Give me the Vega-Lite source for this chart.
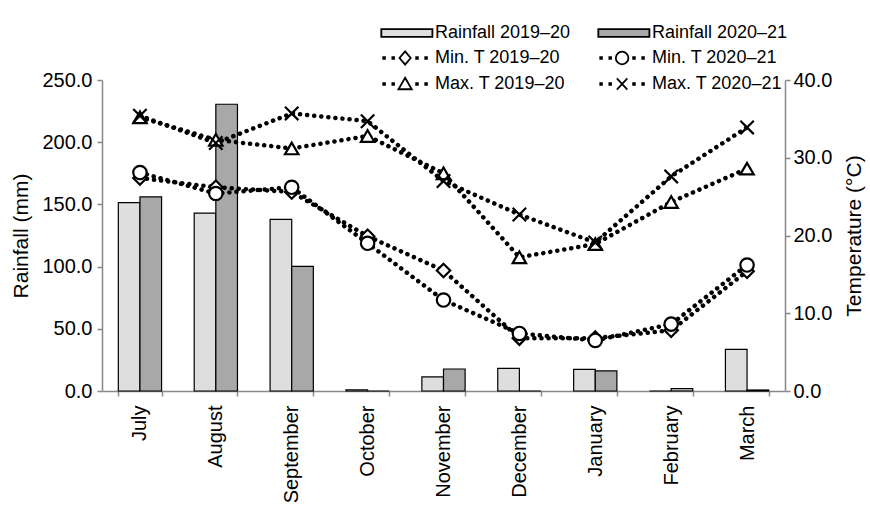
{
  "$schema": "https://vega.github.io/schema/vega-lite/v6.json",
  "width": 683,
  "height": 311,
  "autosize": "none",
  "padding": {"left": 102, "top": 80, "right": 85, "bottom": 114},
  "background": "white",
  "config": {
    "font": "Liberation Sans",
    "view": {"stroke": null},
    "axis": {
      "domainColor": "#888888",
      "tickColor": "#888888",
      "domainWidth": 1.5,
      "tickWidth": 1.5,
      "tickSize": 5,
      "labelColor": "black",
      "titleColor": "black",
      "labelFont": "Liberation Sans",
      "titleFont": "Liberation Sans",
      "labelFontSize": 20,
      "titleFontSize": 21,
      "titleFontWeight": "normal",
      "grid": false
    },
    "legend": {
      "orient": "none",
      "legendX": 278,
      "legendY": -56,
      "columns": 2,
      "padding": 0,
      "labelFontSize": 18,
      "labelFont": "Liberation Sans",
      "labelColor": "black",
      "labelLimit": 300,
      "symbolSize": 196,
      "symbolStrokeWidth": 1.8,
      "symbolStrokeColor": "black",
      "symbolOpacity": 1,
      "labelOffset": 37,
      "rowPadding": 5,
      "columnPadding": 23
    }
  },
  "datasets": {
    "rain": [
      {"month": "July", "year": "2019–20", "rain": 151.4},
      {"month": "July", "year": "2020–21", "rain": 156},
      {"month": "August", "year": "2019–20", "rain": 143},
      {"month": "August", "year": "2020–21", "rain": 230.5},
      {"month": "September", "year": "2019–20", "rain": 138},
      {"month": "September", "year": "2020–21", "rain": 100.2},
      {"month": "October", "year": "2019–20", "rain": 1.0},
      {"month": "October", "year": "2020–21", "rain": 0},
      {"month": "November", "year": "2019–20", "rain": 11.3},
      {"month": "November", "year": "2020–21", "rain": 17.7},
      {"month": "December", "year": "2019–20", "rain": 18.2},
      {"month": "December", "year": "2020–21", "rain": 0},
      {"month": "January", "year": "2019–20", "rain": 17.4},
      {"month": "January", "year": "2020–21", "rain": 16.1},
      {"month": "February", "year": "2019–20", "rain": 0},
      {"month": "February", "year": "2020–21", "rain": 2.0},
      {"month": "March", "year": "2019–20", "rain": 33.5},
      {"month": "March", "year": "2020–21", "rain": 0.8}
    ],
    "temp": [
      {"month": "July", "series": "Min. T 2019–20", "temp": 27.4},
      {"month": "August", "series": "Min. T 2019–20", "temp": 26.2},
      {"month": "September", "series": "Min. T 2019–20", "temp": 25.6},
      {"month": "October", "series": "Min. T 2019–20", "temp": 19.9},
      {"month": "November", "series": "Min. T 2019–20", "temp": 15.5},
      {"month": "December", "series": "Min. T 2019–20", "temp": 6.8},
      {"month": "January", "series": "Min. T 2019–20", "temp": 6.8},
      {"month": "February", "series": "Min. T 2019–20", "temp": 7.8},
      {"month": "March", "series": "Min. T 2019–20", "temp": 15.4},
      {"month": "July", "series": "Min. T 2020–21", "temp": 28.1},
      {"month": "August", "series": "Min. T 2020–21", "temp": 25.4},
      {"month": "September", "series": "Min. T 2020–21", "temp": 26.2},
      {"month": "October", "series": "Min. T 2020–21", "temp": 19.0},
      {"month": "November", "series": "Min. T 2020–21", "temp": 11.7},
      {"month": "December", "series": "Min. T 2020–21", "temp": 7.4},
      {"month": "January", "series": "Min. T 2020–21", "temp": 6.5},
      {"month": "February", "series": "Min. T 2020–21", "temp": 8.6},
      {"month": "March", "series": "Min. T 2020–21", "temp": 16.2},
      {"month": "July", "series": "Max. T 2019–20", "temp": 35.2},
      {"month": "August", "series": "Max. T 2019–20", "temp": 32.3},
      {"month": "September", "series": "Max. T 2019–20", "temp": 31.2},
      {"month": "October", "series": "Max. T 2019–20", "temp": 32.8},
      {"month": "November", "series": "Max. T 2019–20", "temp": 28.0},
      {"month": "December", "series": "Max. T 2019–20", "temp": 17.2},
      {"month": "January", "series": "Max. T 2019–20", "temp": 18.9},
      {"month": "February", "series": "Max. T 2019–20", "temp": 24.3},
      {"month": "March", "series": "Max. T 2019–20", "temp": 28.6},
      {"month": "July", "series": "Max. T 2020–21", "temp": 35.4},
      {"month": "August", "series": "Max. T 2020–21", "temp": 31.9},
      {"month": "September", "series": "Max. T 2020–21", "temp": 35.7},
      {"month": "October", "series": "Max. T 2020–21", "temp": 34.7},
      {"month": "November", "series": "Max. T 2020–21", "temp": 27.0},
      {"month": "December", "series": "Max. T 2020–21", "temp": 22.7},
      {"month": "January", "series": "Max. T 2020–21", "temp": 19.1},
      {"month": "February", "series": "Max. T 2020–21", "temp": 27.6},
      {"month": "March", "series": "Max. T 2020–21", "temp": 33.9}
    ]
  },
  "layer": [
    {
      "data": {"name": "rain"},
      "mark": {"type": "bar", "stroke": "black", "strokeWidth": 1.2},
      "encoding": {
        "x": {
          "field": "month",
          "type": "nominal",
          "scale": {
            "domain": ["July", "August", "September", "October", "November", "December", "January", "February", "March"],
            "paddingInner": 0.43,
            "paddingOuter": 0.215
          },
          "axis": {"title": null, "labelAngle": -90, "tickBand": "extent", "labelPadding": 9, "domainWidth": 1.5}
        },
        "xOffset": {"field": "year", "type": "nominal", "scale": {"paddingInner": 0, "paddingOuter": 0}},
        "y": {
          "field": "rain",
          "type": "quantitative",
          "scale": {"domain": [0, 250]},
          "axis": {"orient": "left", "values": [0, 50, 100, 150, 200, 250], "format": ".1f", "title": "Rainfall (mm)", "labelPadding": 5, "titlePadding": 10}
        },
        "fill": {
          "condition": {"test": "datum.year == '2019–20'", "value": "#dedede"},
          "value": "#a8a8a8"
        }
      }
    },
    {
      "data": {"name": "temp"},
      "layer": [
        {
          "mark": {"type": "line", "color": "black", "strokeWidth": 4.5, "strokeDash": [0.1, 7], "strokeCap": "round"},
          "encoding": {
            "x": {"field": "month", "type": "nominal"},
            "y": {
              "field": "temp",
              "type": "quantitative",
              "scale": {"domain": [0, 40]},
              "axis": {"orient": "right", "values": [0, 5, 10, 15, 20, 25, 30, 35, 40], "format": ".1f", "title": "Temperature (°C)", "titleAngle": -90, "titleBaseline": "top", "labelPadding": 3, "titlePadding": 12}
            },
            "detail": {"field": "series", "type": "nominal"}
          }
        },
        {
          "mark": {"type": "point", "filled": false, "fill": "white", "fillOpacity": 1, "stroke": "black", "strokeWidth": 2.2, "size": 180, "opacity": 1},
          "encoding": {
            "x": {"field": "month", "type": "nominal"},
            "y": {"field": "temp", "type": "quantitative"},
            "shape": {
              "field": "series",
              "type": "nominal",
              "scale": {
                "domain": ["Min. T 2019–20", "Max. T 2019–20", "Min. T 2020–21", "Max. T 2020–21"],
                "range": ["diamond", "triangle-up", "circle", "M-1,-1L1,1M-1,1L1,-1"]
              },
              "legend": null
            }
          }
        },
        {
          "transform": [{"filter": "datum.temp > 1000"}],
          "mark": {"type": "point", "filled": true, "strokeWidth": 1.8, "opacity": 1},
          "encoding": {
            "shape": {
              "field": "series",
              "type": "nominal",
              "scale": {
                "domain": ["Rainfall 2019–20", "Min. T 2019–20", "Max. T 2019–20", "Rainfall 2020–21", "Min. T 2020–21", "Max. T 2020–21"],
                "range": [
                  "M-1.1,-0.55H6.2V0.55H-1.1Z",
                  "M-0.82,-0.12h0.24v0.24h-0.24Z M0.48,-0.12h0.24v0.24h-0.24Z M3.88,-0.12h0.24v0.24h-0.24Z M5.18,-0.12h0.24v0.24h-0.24Z M2.3,-0.95L3.1,0L2.3,0.95L1.5,0Z",
                  "M-0.82,-0.12h0.24v0.24h-0.24Z M0.48,-0.12h0.24v0.24h-0.24Z M3.88,-0.12h0.24v0.24h-0.24Z M5.18,-0.12h0.24v0.24h-0.24Z M2.3,-0.9L3.25,0.75L1.35,0.75Z",
                  "M-1.1,-0.55H6.2V0.55H-1.1Z",
                  "M-0.82,-0.12h0.24v0.24h-0.24Z M0.48,-0.12h0.24v0.24h-0.24Z M3.88,-0.12h0.24v0.24h-0.24Z M5.18,-0.12h0.24v0.24h-0.24Z M3.2,0A0.9,0.9,0,1,1,1.4,0A0.9,0.9,0,1,1,3.2,0Z",
                  "M-0.82,-0.12h0.24v0.24h-0.24Z M0.48,-0.12h0.24v0.24h-0.24Z M3.88,-0.12h0.24v0.24h-0.24Z M5.18,-0.12h0.24v0.24h-0.24Z M1.55,-0.8L3.05,0.8M1.55,0.8L3.05,-0.8"
                ]
              },
              "legend": {"title": null}
            },
            "fill": {
              "field": "series",
              "type": "nominal",
              "scale": {
                "domain": ["Rainfall 2019–20", "Min. T 2019–20", "Max. T 2019–20", "Rainfall 2020–21", "Min. T 2020–21", "Max. T 2020–21"],
                "range": ["#dedede", "white", "white", "#a8a8a8", "white", "white"]
              },
              "legend": {"title": null}
            },
            "stroke": {
              "field": "series",
              "type": "nominal",
              "scale": {
                "domain": ["Rainfall 2019–20", "Min. T 2019–20", "Max. T 2019–20", "Rainfall 2020–21", "Min. T 2020–21", "Max. T 2020–21"],
                "range": ["black", "black", "black", "black", "black", "black"]
              },
              "legend": {"title": null}
            }
          }
        }
      ],
      "resolve": {"scale": {"shape": "independent", "fill": "independent", "stroke": "independent"}}
    }
  ],
  "resolve": {"scale": {"y": "independent"}}
}
